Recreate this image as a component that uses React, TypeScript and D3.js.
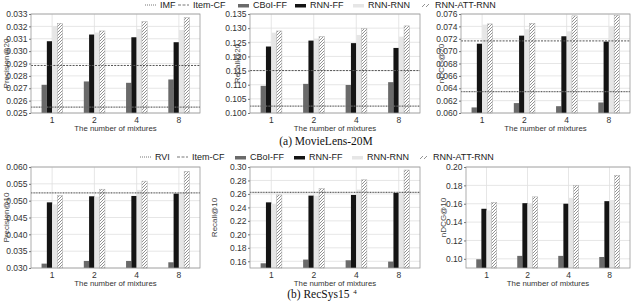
import React, { useEffect, useRef } from "react";
import * as d3 from "d3";

const mixtures = ["1", "2", "4", "8"];
const methods = ["CBoI-FF", "RNN-FF", "RNN-RNN", "RNN-ATT-RNN"];

// MovieLens-20M, one row per method (CBoI-FF, RNN-FF, RNN-RNN, RNN-ATT-RNN)
const mlPrecision20 = [
  [0.02728, 0.02755, 0.02744, 0.02771],
  [0.0308, 0.03134, 0.03112, 0.03072],
  [0.03203, 0.0315, 0.03179, 0.03171],
  [0.03225, 0.03163, 0.03238, 0.0327],
];
const mlRecall20 = [
  [0.1096, 0.1103, 0.1099, 0.1109],
  [0.1235, 0.1256, 0.1247, 0.123],
  [0.1284, 0.1263, 0.1276, 0.127],
  [0.129, 0.127, 0.1298, 0.1308],
];
const mlNdcg20 = [
  [0.0609, 0.0616, 0.0611, 0.0617],
  [0.0712, 0.0725, 0.0724, 0.07154],
  [0.07428, 0.07353, 0.0732, 0.074],
  [0.0744, 0.0745, 0.0757, 0.0758],
];
// baselines for precision, recall, ndcg
const mlImf = [0.02548, 0.1024, 0.06344];
const mlItemCf = [0.02884, 0.115, 0.07165];

// RecSys15
const rsPrecision10 = [
  [0.0313, 0.0321, 0.0321, 0.0317],
  [0.0495, 0.0513, 0.0514, 0.0521],
  [0.0489, 0.0512, 0.0532, 0.0524],
  [0.0515, 0.0534, 0.0558, 0.0587],
];
const rsRecall10 = [
  [0.157, 0.1625, 0.1615, 0.1595],
  [0.2475, 0.2575, 0.2585, 0.2615],
  [0.2455, 0.2575, 0.2665, 0.2625],
  [0.2585, 0.268, 0.281, 0.2955],
];
const rsNdcg10 = [
  [0.0995, 0.1032, 0.1032, 0.102],
  [0.1545, 0.1606, 0.16, 0.1628],
  [0.1527, 0.16, 0.1664, 0.164],
  [0.1614, 0.1675, 0.18, 0.191],
];
const rsRvi = [0.0523, 0.2623, null];
const rsItemCf = [null, null, null];

const ticksP20 = [0.025, 0.026, 0.027, 0.028, 0.029, 0.03, 0.031, 0.032, 0.033];
const ticksR20 = [0.1, 0.105, 0.11, 0.115, 0.12, 0.125, 0.13, 0.135];
const ticksN20 = [0.06, 0.062, 0.064, 0.066, 0.068, 0.07, 0.072, 0.074, 0.076];
const ticksP10 = [0.03, 0.035, 0.04, 0.045, 0.05, 0.055, 0.06];
const ticksR10 = [0.16, 0.18, 0.2, 0.22, 0.24, 0.26, 0.28, 0.3];
const ticksN10 = [0.1, 0.12, 0.14, 0.16, 0.18, 0.2];

const FONT = "'Liberation Sans', Arial, sans-serif";
const SERIF = "'Liberation Serif', 'Times New Roman', serif";
const fills = ["#6a6a6a", "#141414", "#e6e6e6", "url(#hatch)"];

interface Panel {
  values: number[][];
  label: string;
  domain: [number, number];
  ticks: number[];
  fmt: string;
  dotted: (number | null)[];
  dashed: (number | null)[];
  idx: number;
  box: [number, number, number, number];
  labelX: number;
}

export default function App() {
  const svgRef = useRef<SVGSVGElement>(null);

  useEffect(() => {
    const svg = d3.select(svgRef.current);
    svg.selectAll("*").remove();

    const defs = svg.append("defs");
    const pat = defs
      .append("pattern")
      .attr("id", "hatch")
      .attr("patternUnits", "userSpaceOnUse")
      .attr("width", 3)
      .attr("height", 3);
    pat.append("rect").attr("width", 3).attr("height", 3).attr("fill", "#fff");
    pat
      .append("path")
      .attr("d", "M0,3 L3,0 M-1,1 L1,-1 M2,4 L4,2")
      .attr("stroke", "#777")
      .attr("stroke-width", 0.8);

    const panels: Panel[] = [
      { values: mlPrecision20, label: "Precision@20", domain: [0.025, 0.033], ticks: ticksP20, fmt: ".3f", dotted: mlImf, dashed: mlItemCf, idx: 0, box: [31, 200, 14, 113], labelX: 6 },
      { values: mlRecall20, label: "Recall@20", domain: [0.1, 0.135], ticks: ticksR20, fmt: ".3f", dotted: mlImf, dashed: mlItemCf, idx: 1, box: [250, 420, 14, 113], labelX: 237 },
      { values: mlNdcg20, label: "nDCG@20", domain: [0.06, 0.076], ticks: ticksN20, fmt: ".3f", dotted: mlImf, dashed: mlItemCf, idx: 2, box: [461, 630, 14, 113], labelX: 441 },
      { values: rsPrecision10, label: "Precision@10", domain: [0.03, 0.06], ticks: ticksP10, fmt: ".3f", dotted: rsRvi, dashed: rsItemCf, idx: 0, box: [31, 200, 167, 268], labelX: 6 },
      { values: rsRecall10, label: "Recall@10", domain: [0.15, 0.3], ticks: ticksR10, fmt: ".2f", dotted: rsRvi, dashed: rsItemCf, idx: 1, box: [250, 420, 167, 268], labelX: 214 },
      { values: rsNdcg10, label: "nDCG@10", domain: [0.09, 0.2], ticks: ticksN10, fmt: ".2f", dotted: rsRvi, dashed: rsItemCf, idx: 2, box: [466, 630, 167, 268], labelX: 443 },
    ];

    panels.forEach((p) => {
      const [x0, x1, y0, y1] = p.box;
      const g = svg.append("g");
      const x = d3
        .scaleBand()
        .domain(mixtures)
        .range([x0, x1])
        .paddingInner(0.5)
        .paddingOuter(0.25);
      const xm = d3.scaleBand().domain(methods).range([0, x.bandwidth()]);
      const y = d3.scaleLinear().domain(p.domain).range([y1, y0]);

      g.append("rect")
        .attr("x", x0)
        .attr("y", y0)
        .attr("width", x1 - x0)
        .attr("height", y1 - y0)
        .attr("fill", "#fff");

      g.selectAll(".hgrid")
        .data(p.ticks)
        .enter()
        .append("line")
        .attr("x1", x0)
        .attr("x2", x1)
        .attr("y1", (d) => y(d))
        .attr("y2", (d) => y(d))
        .attr("stroke", "#e0e0e0")
        .attr("stroke-width", 0.8);

      g.selectAll(".vgrid")
        .data(mixtures)
        .enter()
        .append("line")
        .attr("x1", (d) => x(d)! + x.bandwidth() / 2)
        .attr("x2", (d) => x(d)! + x.bandwidth() / 2)
        .attr("y1", y0)
        .attr("y2", y1)
        .attr("stroke", "#e0e0e0")
        .attr("stroke-width", 0.8);

      methods.forEach((m, mi) => {
        g.selectAll(null)
          .data(p.values[mi])
          .enter()
          .append("rect")
          .attr("x", (_d, i) => x(mixtures[i])! + xm(m)!)
          .attr("y", (d) => y(d))
          .attr("width", xm.bandwidth())
          .attr("height", (d) => y1 - y(d))
          .attr("fill", fills[mi])
          .attr("stroke", mi === 3 ? "#aaa" : "none")
          .attr("stroke-width", 0.5);
      });

      const dv = p.dotted[p.idx];
      if (dv !== null && dv >= p.domain[0] && dv <= p.domain[1]) {
        g.append("line")
          .attr("x1", x0)
          .attr("x2", x1)
          .attr("y1", y(dv))
          .attr("y2", y(dv))
          .attr("stroke", "#666")
          .attr("stroke-width", 1.2)
          .attr("stroke-dasharray", "1,0.6");
      }
      const hv = p.dashed[p.idx];
      if (hv !== null && hv >= p.domain[0] && hv <= p.domain[1]) {
        g.append("line")
          .attr("x1", x0)
          .attr("x2", x1)
          .attr("y1", y(hv))
          .attr("y2", y(hv))
          .attr("stroke", "#555")
          .attr("stroke-width", 1)
          .attr("stroke-dasharray", "2,1.2");
      }

      g.append("rect")
        .attr("x", x0)
        .attr("y", y0)
        .attr("width", x1 - x0)
        .attr("height", y1 - y0)
        .attr("fill", "none")
        .attr("stroke", "#999")
        .attr("stroke-width", 0.8);

      const ax = g
        .append("g")
        .attr("transform", `translate(${x0},0)`)
        .call(
          d3
            .axisLeft(y)
            .tickValues(p.ticks)
            .tickFormat(d3.format(p.fmt) as any)
            .tickSize(2)
            .tickPadding(1.5)
        );
      ax.select(".domain").remove();
      ax.selectAll("line").attr("stroke", "#777");
      ax.selectAll("text")
        .attr("font-family", FONT)
        .attr("font-size", 8.5)
        .attr("fill", "#333");

      g.selectAll(".xlab")
        .data(mixtures)
        .enter()
        .append("text")
        .attr("x", (d) => x(d)! + x.bandwidth() / 2)
        .attr("y", y1 + 10)
        .attr("text-anchor", "middle")
        .attr("font-family", FONT)
        .attr("font-size", 8.5)
        .attr("fill", "#333")
        .text((d) => d);

      g.append("text")
        .attr("x", (x0 + x1) / 2)
        .attr("y", y1 + 18)
        .attr("text-anchor", "middle")
        .attr("font-family", FONT)
        .attr("font-size", 7.8)
        .attr("fill", "#333")
        .text("The number of mixtures");

      g.append("text")
        .attr("transform", `translate(${p.labelX + 3},${(y0 + y1) / 2}) rotate(-90)`)
        .attr("text-anchor", "middle")
        .attr("font-family", FONT)
        .attr("font-size", 8)
        .attr("fill", "#444")
        .text(p.label);
    });

    // legends
    const legendRows = [
      { y: 5, first: "IMF", pos: [145, 178, 238, 295, 353, 422] },
      { y: 157, first: "RVI", pos: [140, 177, 235, 294, 352, 420] },
    ];
    legendRows.forEach((row) => {
      const lg = svg.append("g");
      const names = [row.first, "Item-CF", ...methods];
      names.forEach((name, i) => {
        const sx = row.pos[i];
        if (i === 0) {
          lg.append("line")
            .attr("x1", sx).attr("x2", sx + 12)
            .attr("y1", row.y).attr("y2", row.y)
            .attr("stroke", "#777").attr("stroke-width", 1)
            .attr("stroke-dasharray", "1,1");
        } else if (i === 1) {
          lg.append("line")
            .attr("x1", sx).attr("x2", sx + 11)
            .attr("y1", row.y).attr("y2", row.y)
            .attr("stroke", "#777").attr("stroke-width", 1)
            .attr("stroke-dasharray", "3,1.5");
        } else if (i < 5) {
          lg.append("rect")
            .attr("x", sx).attr("y", row.y - 1)
            .attr("width", 11).attr("height", 3.5)
            .attr("fill", fills[i - 2]);
        } else {
          lg.append("path")
            .attr("d", `M${sx},${row.y + 2} L${sx + 3},${row.y - 1} M${sx + 4},${row.y + 2} L${sx + 7},${row.y - 1}`)
            .attr("stroke", "#777").attr("stroke-width", 0.8);
        }
        lg.append("text")
          .attr("x", sx + (i === 5 ? 13 : 15))
          .attr("y", row.y + 3.3)
          .attr("font-family", FONT)
          .attr("font-size", 9)
          .attr("fill", "#222")
          .text(name);
      });
    });

    svg.append("text")
      .attr("x", 326)
      .attr("y", 145)
      .attr("text-anchor", "middle")
      .attr("font-family", SERIF)
      .attr("font-size", 11.5)
      .attr("fill", "#111")
      .text("(a) MovieLens-20M");

    const cap = svg.append("text")
      .attr("x", 322)
      .attr("y", 298)
      .attr("text-anchor", "middle")
      .attr("font-family", SERIF)
      .attr("font-size", 11.5)
      .attr("fill", "#111");
    cap.append("tspan").text("(b) RecSys15 ");
    cap.append("tspan").attr("font-size", 7).attr("dx", 1).attr("dy", -4).text("4");
  }, []);

  return (
    <svg
      ref={svgRef}
      width={640}
      height={304}
      style={{ position: "absolute", left: 0, top: 0, background: "#fff" }}
    />
  );
}
